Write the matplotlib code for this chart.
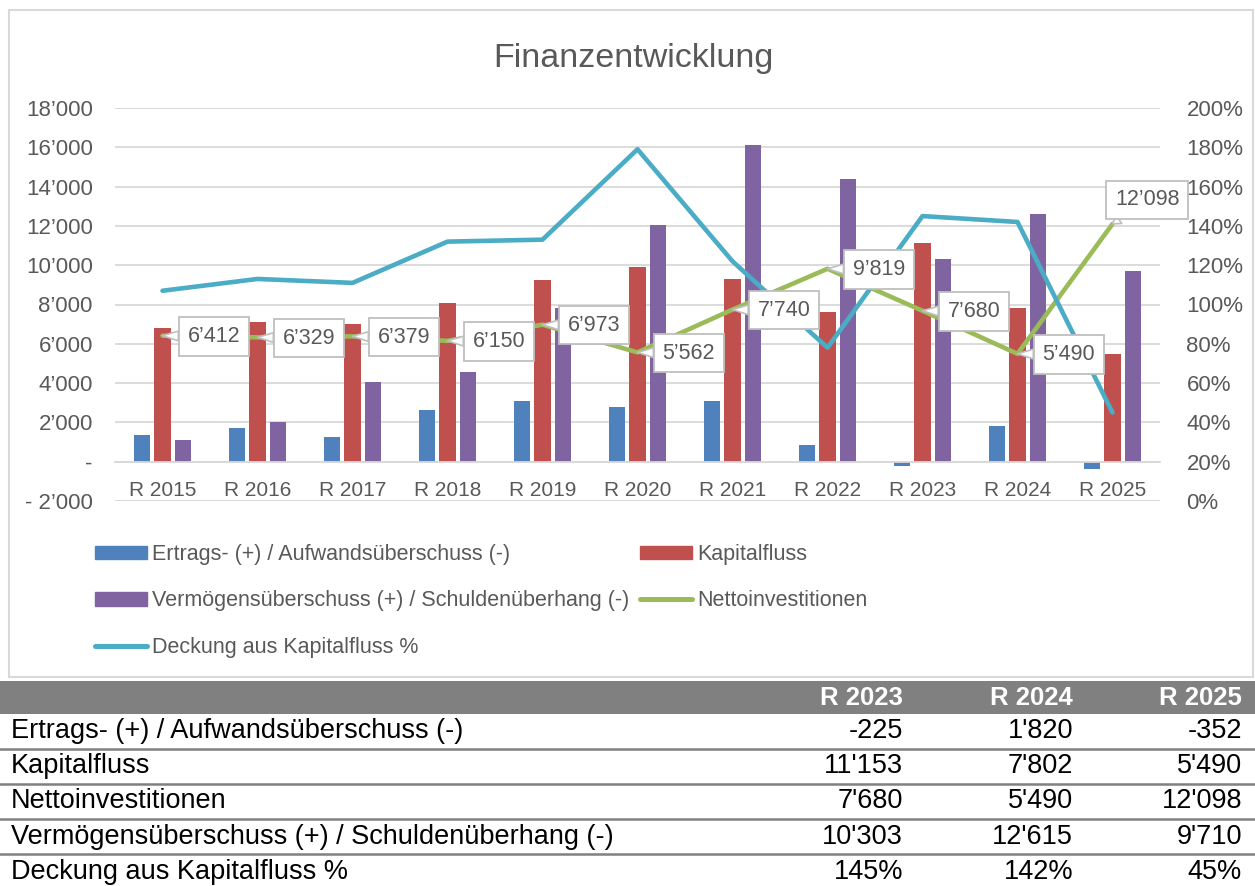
import matplotlib
matplotlib.use("Agg")
import matplotlib.pyplot as plt
from matplotlib.patches import Rectangle, Patch
from matplotlib.lines import Line2D
from matplotlib.ticker import FuncFormatter

years = ["R 2015", "R 2016", "R 2017", "R 2018", "R 2019", "R 2020",
         "R 2021", "R 2022", "R 2023", "R 2024", "R 2025"]
ertrag = [1380, 1700, 1240, 2650, 3070, 2800, 3070, 860, -225, 1820, -352]
kapitalfluss = [6780, 7130, 7030, 8100, 9230, 9890, 9310, 7600, 11153, 7802, 5490]
vermoegen = [1100, 2030, 4070, 4580, 7830, 12030, 16130, 14370, 10303, 12615, 9710]
netto = [6412, 6329, 6379, 6150, 6973, 5562, 7740, 9819, 7680, 5490, 12098]
deckung = [107, 113, 111, 132, 133, 179, 122, 78, 145, 142, 45]

lbl_ertrag = "Ertrags- (+) / Aufwandsüberschuss (-)"
lbl_kap = "Kapitalfluss"
lbl_verm = "Vermögensüberschuss (+) / Schuldenüberhang (-)"
lbl_netto = "Nettoinvestitionen"
lbl_deck = "Deckung aus Kapitalfluss %"

c_blue, c_red, c_purple = "#4f81bd", "#c0504d", "#8064a2"
c_green, c_cyan = "#9bbb59", "#4bacc6"
grey_txt = "#595959"
grid_c = "#d9d9d9"

plt.rcParams["font.family"] = ["Liberation Sans", "DejaVu Sans"]


def fmt_num(v, sep="\u2019"):
    s = f"{abs(int(round(v))):,}".replace(",", sep)
    return ("-" if v < 0 else "") + s


def left_fmt(v, pos):
    if v == 0:
        return "-"
    if v < 0:
        return "- " + fmt_num(-v)
    return fmt_num(v)


# percent axis maps 0..200 % onto -2000..18000
def to_pct(y):
    return (y + 2000) / 100.0


def from_pct(p):
    return p * 100.0 - 2000


W, H = 1255.0, 886.0
fig = plt.figure(figsize=(12.55, 8.86), dpi=100)

# chart frame
fig.add_artist(Rectangle((9 / W, 1 - 677 / H), 1244 / W, 667 / H,
                         transform=fig.transFigure, fill=False, ec=grid_c, lw=1.5))

ax = fig.add_axes([115 / W, 1 - 501 / H, 1045 / W, 393 / H])
x = list(range(len(years)))
w = 0.17
off = 0.22
ax.bar([i - off for i in x], ertrag, w, color=c_blue, zorder=2)
ax.bar(x, kapitalfluss, w, color=c_red, zorder=2)
ax.bar([i + off for i in x], vermoegen, w, color=c_purple, zorder=2)

ax.plot(x, netto, color=c_green, lw=3.3, zorder=3, solid_capstyle="round")
ax.plot(x, [from_pct(p) for p in deckung], color=c_cyan, lw=3.3, zorder=4,
        solid_capstyle="round")

for i, v in enumerate(netto):
    if i == len(netto) - 1:
        xt = (25, 17.5)
    else:
        xt = (37, -0.5)
    ax.annotate(fmt_num(v), xy=(i, v), xytext=xt, textcoords="offset points",
                ha="center", va="center", fontsize=15.5, color=grey_txt, zorder=6,
                bbox=dict(boxstyle="square,pad=0.4", fc="white", ec="#bfbfbf", lw=1.3),
                arrowprops=dict(arrowstyle="wedge,tail_width=0.45", fc="white",
                                ec="#bfbfbf", lw=1.2, shrinkA=0, shrinkB=0))

ax.set_xlim(-0.5, len(years) - 0.5)
ax.set_ylim(-2000, 18000)
ax.set_yticks(range(-2000, 18001, 2000))
ax.yaxis.set_major_formatter(FuncFormatter(left_fmt))
ax.yaxis.grid(True, color=grid_c, lw=1.3, zorder=0)
ax.set_axisbelow(True)
for s in ["top", "right", "left"]:
    ax.spines[s].set_visible(False)
ax.spines["bottom"].set_position(("data", 0))
ax.spines["bottom"].set_color(grid_c)
ax.spines["bottom"].set_linewidth(1.3)
ax.set_xticks(x)
ax.set_xticklabels(years)
ax.tick_params(axis="x", length=0, pad=14, labelsize=15, labelcolor=grey_txt)
ax.tick_params(axis="y", length=0, pad=16, labelsize=16, labelcolor=grey_txt)

ax2 = ax.secondary_yaxis("right", functions=(to_pct, from_pct))
ax2.set_yticks(range(0, 201, 20))
ax2.yaxis.set_major_formatter(FuncFormatter(lambda v, p: f"{int(round(v))}%"))
ax2.tick_params(length=0, pad=19, labelsize=16, labelcolor=grey_txt)
ax2.spines["right"].set_visible(False)

fig.text(633 / W, 1 - 67 / H, "Finanzentwicklung", ha="center", va="baseline",
         fontsize=24.5, color=grey_txt)

handles = [Patch(color=c_blue), Patch(color=c_purple),
           Line2D([], [], color=c_cyan, lw=3.6, solid_capstyle="round"),
           Patch(color=c_red),
           Line2D([], [], color=c_green, lw=3.6, solid_capstyle="round")]
labels = [lbl_ertrag, lbl_verm, lbl_deck, lbl_kap, lbl_netto]
fig.legend(handles, labels, loc="upper left", bbox_to_anchor=(95 / W, 1 - 544 / H),
           ncol=2, frameon=False, fontsize=15.5, labelcolor=grey_txt,
           borderpad=0, borderaxespad=0,
           handlelength=2.42, handleheight=0.6, handletextpad=0.23,
           labelspacing=1.18, columnspacing=0.5)

# table below the chart
tbl_years = years[-3:]
tbl_rows = [
    (lbl_ertrag, [fmt_num(v, "'") for v in ertrag[-3:]]),
    (lbl_kap, [fmt_num(v, "'") for v in kapitalfluss[-3:]]),
    (lbl_netto, [fmt_num(v, "'") for v in netto[-3:]]),
    (lbl_verm, [fmt_num(v, "'") for v in vermoegen[-3:]]),
    (lbl_deck, [f"{v}%" for v in deckung[-3:]]),
]
col_right = [903, 1073, 1242]
tfs = 19.5
fig.add_artist(Rectangle((0, 1 - 714 / H), 1, 33 / H, transform=fig.transFigure,
                         color="#808080", lw=0))
for xr, yl in zip(col_right, tbl_years):
    fig.text(xr / W, 1 - 698 / H, yl, ha="right", va="center", fontsize=18.5,
             fontweight="bold", color="white")
row_h = 35.2
for r, (name, vals) in enumerate(tbl_rows):
    yc = 731 + r * row_h
    fig.text(11 / W, 1 - yc / H, name, ha="left", va="center", fontsize=tfs,
             color="black")
    for xr, v in zip(col_right, vals):
        fig.text(xr / W, 1 - yc / H, v, ha="right", va="center", fontsize=tfs,
                 color="black")
    if r < len(tbl_rows) - 1:
        yl = yc + row_h / 2
        fig.add_artist(Line2D([0, 1], [1 - yl / H, 1 - yl / H], transform=fig.transFigure,
                              color="#808080", lw=1.8))

fig.savefig("out.png", dpi=100)
